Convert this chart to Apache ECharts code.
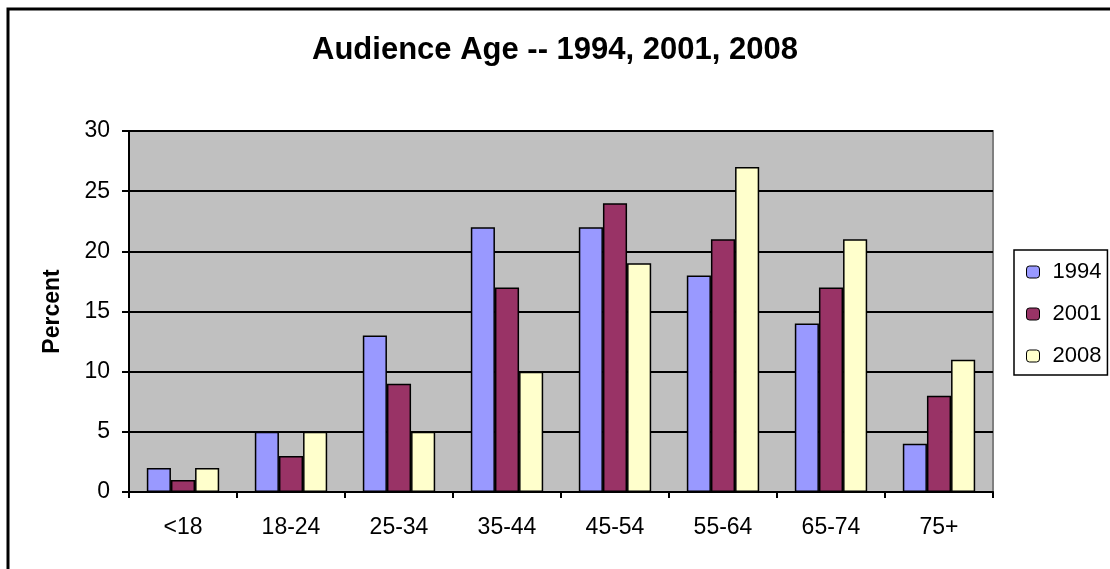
<!DOCTYPE html>
<html>
<head>
<meta charset="utf-8">
<script src="https://cdn.jsdelivr.net/npm/echarts@6/dist/echarts.min.js"></script>
<style>
html,body{margin:0;padding:0;background:#fff;}
#c{width:1110px;height:569px;}
</style>
</head>
<body>
<div id="c"></div>
<script>
var categories = ['<18', '18-24', '25-34', '35-44', '45-54', '55-64', '65-74', '75+'];
var s1994 = [2, 5, 13, 22, 22, 18, 14, 4];
var s2001 = [1, 3, 9, 17, 24, 21, 17, 8];
var s2008 = [2, 5, 5, 10, 19, 27, 21, 11];
var seriesNames = ['1994', '2001', '2008'];
var yTicks = [0, 5, 10, 15, 20, 25, 30];

var chart = echarts.init(document.getElementById('c'), null, {renderer: 'canvas'});
var font = 'Liberation Sans, Arial, sans-serif';
var colors = ['#9999FF', '#993366', '#FFFFCC'];
var data = [s1994, s2001, s2008];

var option = {
  animation: false,
  backgroundColor: '#fff',
  title: {
    text: 'Audience Age -- 1994, 2001, 2008',
    left: 'center',
    top: 30,
    textStyle: {fontFamily: font, fontWeight: 'bold', fontSize: 31, color: '#000'}
  },
  graphic: [
    {type: 'rect', shape: {x: 8, y: 9, width: 1200, height: 700}, style: {fill: 'none', stroke: '#000', lineWidth: 3}, z: 100},
    {type: 'polyline', shape: {points: [[129, 131], [993, 131], [993, 492]]}, style: {stroke: '#808080', lineWidth: 2, fill: 'none'}, z: 0}
  ],
  legend: {
    orient: 'vertical',
    left: 1014,
    top: 250,
    data: seriesNames,
    itemWidth: 13,
    itemHeight: 12,
    itemGap: 20,
    padding: [11, 6, 8, 12],
    borderColor: '#000',
    borderWidth: 1.5,
    backgroundColor: '#fff',
    textStyle: {fontFamily: font, fontSize: 22, color: '#000', lineHeight: 22, padding: [0, 0, 0, 8]},
    itemStyle: {borderColor: '#000', borderWidth: 1}
  },
  grid: {
    left: 129, right: 117, top: 131, bottom: 77,
    show: true, backgroundColor: '#C0C0C0', borderWidth: 0
  },
  xAxis: {
    type: 'category',
    data: categories,
    axisLine: {lineStyle: {color: '#000', width: 2}},
    axisTick: {show: true, length: 6, lineStyle: {color: '#000', width: 2}},
    axisLabel: {fontFamily: font, fontSize: 23, color: '#000', margin: 24}
  },
  yAxis: {
    type: 'value',
    min: 0, max: 30, interval: 5,
    name: 'Percent',
    nameLocation: 'middle',
    nameGap: 65,
    nameRotate: 90,
    nameTextStyle: {fontFamily: font, fontSize: 23, fontWeight: 'bold', color: '#000'},
    axisLine: {show: true, lineStyle: {color: '#000', width: 2}},
    axisTick: {show: true, length: 7, lineStyle: {color: '#000', width: 2}},
    axisLabel: {fontFamily: font, fontSize: 23, color: '#000', margin: 19,
      formatter: function (v) { return yTicks.indexOf(v) >= 0 ? String(v) : ''; }},
    splitLine: {show: true, lineStyle: {color: '#000', width: 2}}
  },
  series: seriesNames.map(function (n, i) {
    return {
      name: n,
      type: 'bar',
      data: data[i],
      barGap: '0%',
      barCategoryGap: '33%',
      itemStyle: {color: colors[i], borderColor: '#000', borderWidth: 1.5}
    };
  })
};
chart.setOption(option);
</script>
</body>
</html>
